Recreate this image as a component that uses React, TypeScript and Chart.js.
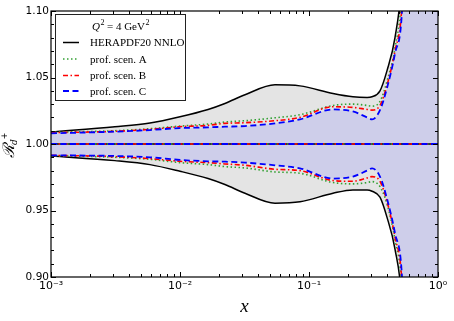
import React, { useEffect, useRef } from 'react';
import { Chart, registerables } from 'chart.js';
Chart.register(...registerables);

// x grid (momentum fraction)
const X = [0.001, 0.00313, 0.00585, 0.01, 0.0165, 0.0223, 0.0319, 0.0545, 0.0851, 0.1535, 0.219, 0.282, 0.308, 0.355, 0.402, 0.464, 0.526, 0.6, 1.0];

// HERAPDF20 NNLO band
const HERA_UP = [1.009, 1.013, 1.0158, 1.0205, 1.026, 1.0305, 1.037, 1.0445, 1.0437, 1.038, 1.0355, 1.035, 1.0355, 1.040, 1.055, 1.080, 1.125, 1.25, 1.6];
const HERA_LO = [0.991, 0.9875, 0.9845, 0.9795, 0.974, 0.9695, 0.963, 0.9555, 0.9565, 0.963, 0.9655, 0.9655, 0.9645, 0.960, 0.945, 0.921, 0.88, 0.75, 0.4];
// profiled scenarios
const A_UP = [1.0088, 1.010, 1.0115, 1.0135, 1.015, 1.0165, 1.0175, 1.0197, 1.022, 1.029, 1.030, 1.029, 1.0285, 1.032, 1.047, 1.072, 1.115, 1.25, 1.6];
const A_LO = [0.9912, 0.990, 0.9885, 0.986, 0.9845, 0.983, 0.982, 0.979, 0.978, 0.971, 0.970, 0.971, 0.9717, 0.968, 0.955, 0.928, 0.89, 0.75, 0.4];
const B_UP = [1.0085, 1.0095, 1.011, 1.013, 1.014, 1.0155, 1.016, 1.0175, 1.020, 1.028, 1.0275, 1.026, 1.0255, 1.029, 1.044, 1.070, 1.105, 1.25, 1.6];
const B_LO = [0.9915, 0.9905, 0.989, 0.987, 0.986, 0.985, 0.984, 0.981, 0.980, 0.9725, 0.972, 0.9745, 0.9755, 0.972, 0.957, 0.930, 0.895, 0.75, 0.4];
const C_UP = [1.008, 1.0093, 1.0105, 1.012, 1.0125, 1.013, 1.0135, 1.0155, 1.0185, 1.026, 1.0245, 1.020, 1.0185, 1.0255, 1.042, 1.068, 1.10, 1.25, 1.6];
const C_LO = [0.9915, 0.991, 0.990, 0.988, 0.987, 0.9867, 0.986, 0.984, 0.9817, 0.974, 0.9755, 0.980, 0.9817, 0.9755, 0.959, 0.933, 0.90, 0.75, 0.4];
// central value (ratio = 1)
const CENTER_X = [0.001, 1.0];
const CENTER_Y = [1.0, 1.0];

const X_TICKS = [0.001, 0.01, 0.1, 1];
const X_TICK_LABELS = ['10\u207B\u00B3', '10\u207B\u00B2', '10\u207B\u00B9', '10\u2070'];
const Y_TICKS = [0.90, 0.95, 1.00, 1.05, 1.10];
const Y_TICK_LABELS = ['0.90', '0.95', '1.00', '1.05', '1.10'];

const LEGEND_LABELS = ['HERAPDF20 NNLO', 'prof. scen. A', 'prof. scen. B', 'prof. scen. C'];

const COL_BLACK = '#000000';
const COL_A = '#33a033';
const COL_B = '#ff0000';
const COL_C = '#0000ff';
const DASH_A = [1.5, 2.5];
const DASH_B = [5, 2.5, 1.5, 2.5];
const DASH_C = [6, 3.5];
const FILL_GRAY = 'rgb(228,228,228)';
const FILL_LAV = 'rgb(206,206,234)';

const pts = (ys: number[]) => X.map((x, i) => ({ x, y: ys[i] }));
const center = () => CENTER_X.map((x, i) => ({ x, y: CENTER_Y[i] }));

const line = (label: string, data: any[], color: string, width: number, dash: number[], order: number) => ({
  label,
  data,
  borderColor: color,
  borderWidth: width,
  borderDash: dash,
  pointRadius: 0,
  fill: false,
  cubicInterpolationMode: 'monotone',
  order,
});

const framePlugin = {
  id: 'frameTicks',
  afterDatasetsDraw(chart: any) {
    const { ctx, chartArea: a, scales } = chart;
    const xs = scales.x;
    const ys = scales.y;
    ctx.save();
    ctx.strokeStyle = '#000';
    ctx.lineWidth = 1;
    const yMinor: number[] = [];
    for (let k = 90; k <= 110; k++) yMinor.push(k / 100);
    const drawY = (v: number, len: number) => {
      const p = Math.round(ys.getPixelForValue(v)) + 0.5;
      ctx.beginPath();
      ctx.moveTo(a.left, p); ctx.lineTo(a.left + len, p);
      ctx.moveTo(a.right, p); ctx.lineTo(a.right - len, p);
      ctx.stroke();
    };
    yMinor.forEach((v) => drawY(v, 3));
    Y_TICKS.forEach((v) => drawY(v, 5));
    const drawX = (v: number, len: number) => {
      const p = Math.round(xs.getPixelForValue(v)) + 0.5;
      ctx.beginPath();
      ctx.moveTo(p, a.bottom); ctx.lineTo(p, a.bottom - len);
      ctx.moveTo(p, a.top); ctx.lineTo(p, a.top + len);
      ctx.stroke();
    };
    for (let d = 0.001; d < 0.5; d *= 10) {
      for (let m = 2; m <= 9; m++) drawX(d * m, 3);
    }
    X_TICKS.forEach((v) => drawX(v, 5));
    ctx.lineWidth = 1.2;
    ctx.strokeRect(a.left, a.top, a.right - a.left, a.bottom - a.top);
    ctx.restore();
  },
  afterDraw(chart: any) {
    const { ctx, chartArea: a } = chart;
    ctx.save();
    const bx = 55.5, by = 14.5, bw = 130, bh = 86;
    ctx.fillStyle = '#ffffff';
    ctx.fillRect(bx, by, bw, bh);
    ctx.strokeStyle = '#222';
    ctx.lineWidth = 1;
    ctx.strokeRect(bx, by, bw, bh);
    ctx.fillStyle = '#000';
    ctx.textBaseline = 'alphabetic';
    let tx = 92;
    const ty = 30;
    ctx.font = 'italic 11px "Liberation Serif"';
    ctx.fillText('Q', tx, ty);
    tx += ctx.measureText('Q').width;
    ctx.font = '8px "Liberation Serif"';
    ctx.fillText('2', tx + 0.5, ty - 5);
    tx += ctx.measureText('2').width + 3;
    ctx.font = '11px "Liberation Serif"';
    const mid = '= 4 GeV';
    ctx.fillText(mid, tx, ty);
    tx += ctx.measureText(mid).width;
    ctx.font = '8px "Liberation Serif"';
    ctx.fillText('2', tx + 0.5, ty - 5);
    const rows = [42.5, 59, 75.5, 91];
    const styles = [
      { c: COL_BLACK, w: 1.5, d: [] as number[] },
      { c: COL_A, w: 1.6, d: DASH_A },
      { c: COL_B, w: 1.6, d: DASH_B },
      { c: COL_C, w: 1.8, d: DASH_C },
    ];
    ctx.font = '11px "Liberation Serif"';
    rows.forEach((ry, i) => {
      ctx.save();
      ctx.strokeStyle = styles[i].c;
      ctx.lineWidth = styles[i].w;
      ctx.setLineDash(styles[i].d);
      ctx.beginPath();
      ctx.moveTo(63, ry);
      ctx.lineTo(79, ry);
      ctx.stroke();
      ctx.restore();
      ctx.fillText(LEGEND_LABELS[i], 90, ry + 3.5);
    });
    ctx.font = 'italic 19px "Liberation Serif"';
    ctx.textAlign = 'center';
    ctx.fillText('x', (a.left + a.right) / 2, 312);
    ctx.save();
    ctx.translate(15, 158);
    ctx.rotate(-Math.PI / 2);
    ctx.textAlign = 'left';
    ctx.font = 'italic 16px "DejaVu Serif"';
    ctx.fillText('\u211B', 0, -1);
    const rw = ctx.measureText('\u211B').width;
    ctx.font = 'italic 9px "DejaVu Serif"';
    ctx.fillText('d', rw - 1, 2);
    const dw = ctx.measureText('d').width;
    ctx.font = '8px "DejaVu Sans"';
    ctx.fillText('+', rw + dw - 1, -8);
    ctx.restore();
    ctx.restore();
  },
};

export default function App() {
  const ref = useRef<HTMLCanvasElement>(null);
  useEffect(() => {
    if (!ref.current) return;
    const chart = new Chart(ref.current, {
      type: 'line',
      data: {
        datasets: [
          { label: 'hu', data: pts(HERA_UP), borderWidth: 0, pointRadius: 0, fill: 1, backgroundColor: FILL_GRAY, cubicInterpolationMode: 'monotone', order: 20 } as any,
          { label: 'hl', data: pts(HERA_LO), borderWidth: 0, pointRadius: 0, fill: false, cubicInterpolationMode: 'monotone', order: 20 } as any,
          { label: 'cu', data: pts(C_UP), borderWidth: 0, pointRadius: 0, fill: 3, backgroundColor: FILL_LAV, cubicInterpolationMode: 'monotone', order: 15 } as any,
          { label: 'cl', data: pts(C_LO), borderWidth: 0, pointRadius: 0, fill: false, cubicInterpolationMode: 'monotone', order: 15 } as any,
          line('HERA up', pts(HERA_UP), COL_BLACK, 1.5, [], 8),
          line('HERA lo', pts(HERA_LO), COL_BLACK, 1.5, [], 8),
          line('HERA c', center(), COL_BLACK, 1.5, [], 8),
          line('A up', pts(A_UP), COL_A, 1.6, DASH_A, 6),
          line('A lo', pts(A_LO), COL_A, 1.6, DASH_A, 6),
          line('A c', center(), COL_A, 1.6, DASH_A, 6),
          line('B up', pts(B_UP), COL_B, 1.6, DASH_B, 4),
          line('B lo', pts(B_LO), COL_B, 1.6, DASH_B, 4),
          line('B c', center(), COL_B, 1.6, DASH_B, 4),
          line('C up', pts(C_UP), COL_C, 1.8, DASH_C, 2),
          line('C lo', pts(C_LO), COL_C, 1.8, DASH_C, 2),
          line('C c', center(), COL_C, 1.8, DASH_C, 2),
        ] as any,
      },
      options: {
        animation: false,
        responsive: false,
        devicePixelRatio: 1,
        layout: { padding: { top: 11, right: 16, left: 0, bottom: 0 } },
        plugins: { legend: { display: false }, tooltip: { enabled: false } },
        scales: {
          x: {
            type: 'logarithmic',
            min: 0.001,
            max: 1,
            grid: { display: false, drawTicks: false },
            border: { display: false },
            afterBuildTicks: (s: any) => { s.ticks = X_TICKS.map((v) => ({ value: v })); },
            afterFit: (s: any) => { s.height = 44; },
            ticks: {
              autoSkip: false,
              maxRotation: 0,
              padding: 3,
              color: '#000',
              font: { family: '"DejaVu Sans"', size: 11 },
              callback: (v: any) => { const i = X_TICKS.indexOf(Number(v)); return i >= 0 ? X_TICK_LABELS[i] : ''; },
            },
          },
          y: {
            type: 'linear',
            min: 0.9,
            max: 1.1,
            grid: { display: false, drawTicks: false },
            border: { display: false },
            afterBuildTicks: (s: any) => { s.ticks = Y_TICKS.map((v) => ({ value: v })); },
            afterFit: (s: any) => { s.width = 51; },
            ticks: {
              autoSkip: false,
              padding: 2,
              color: '#000',
              font: { family: '"DejaVu Sans"', size: 10.5 },
              callback: (v: any) => { const i = Y_TICKS.findIndex((t) => Math.abs(t - Number(v)) < 1e-9); return i >= 0 ? Y_TICK_LABELS[i] : ''; },
            },
          },
        },
      } as any,
      plugins: [framePlugin],
    });
    return () => chart.destroy();
  }, []);
  return (
    <div style={{ position: 'absolute', left: 0, top: 0, width: 454, height: 321, background: '#fff' }}>
      <canvas ref={ref} width={454} height={321} style={{ display: 'block', width: 454, height: 321 }} />
    </div>
  );
}
